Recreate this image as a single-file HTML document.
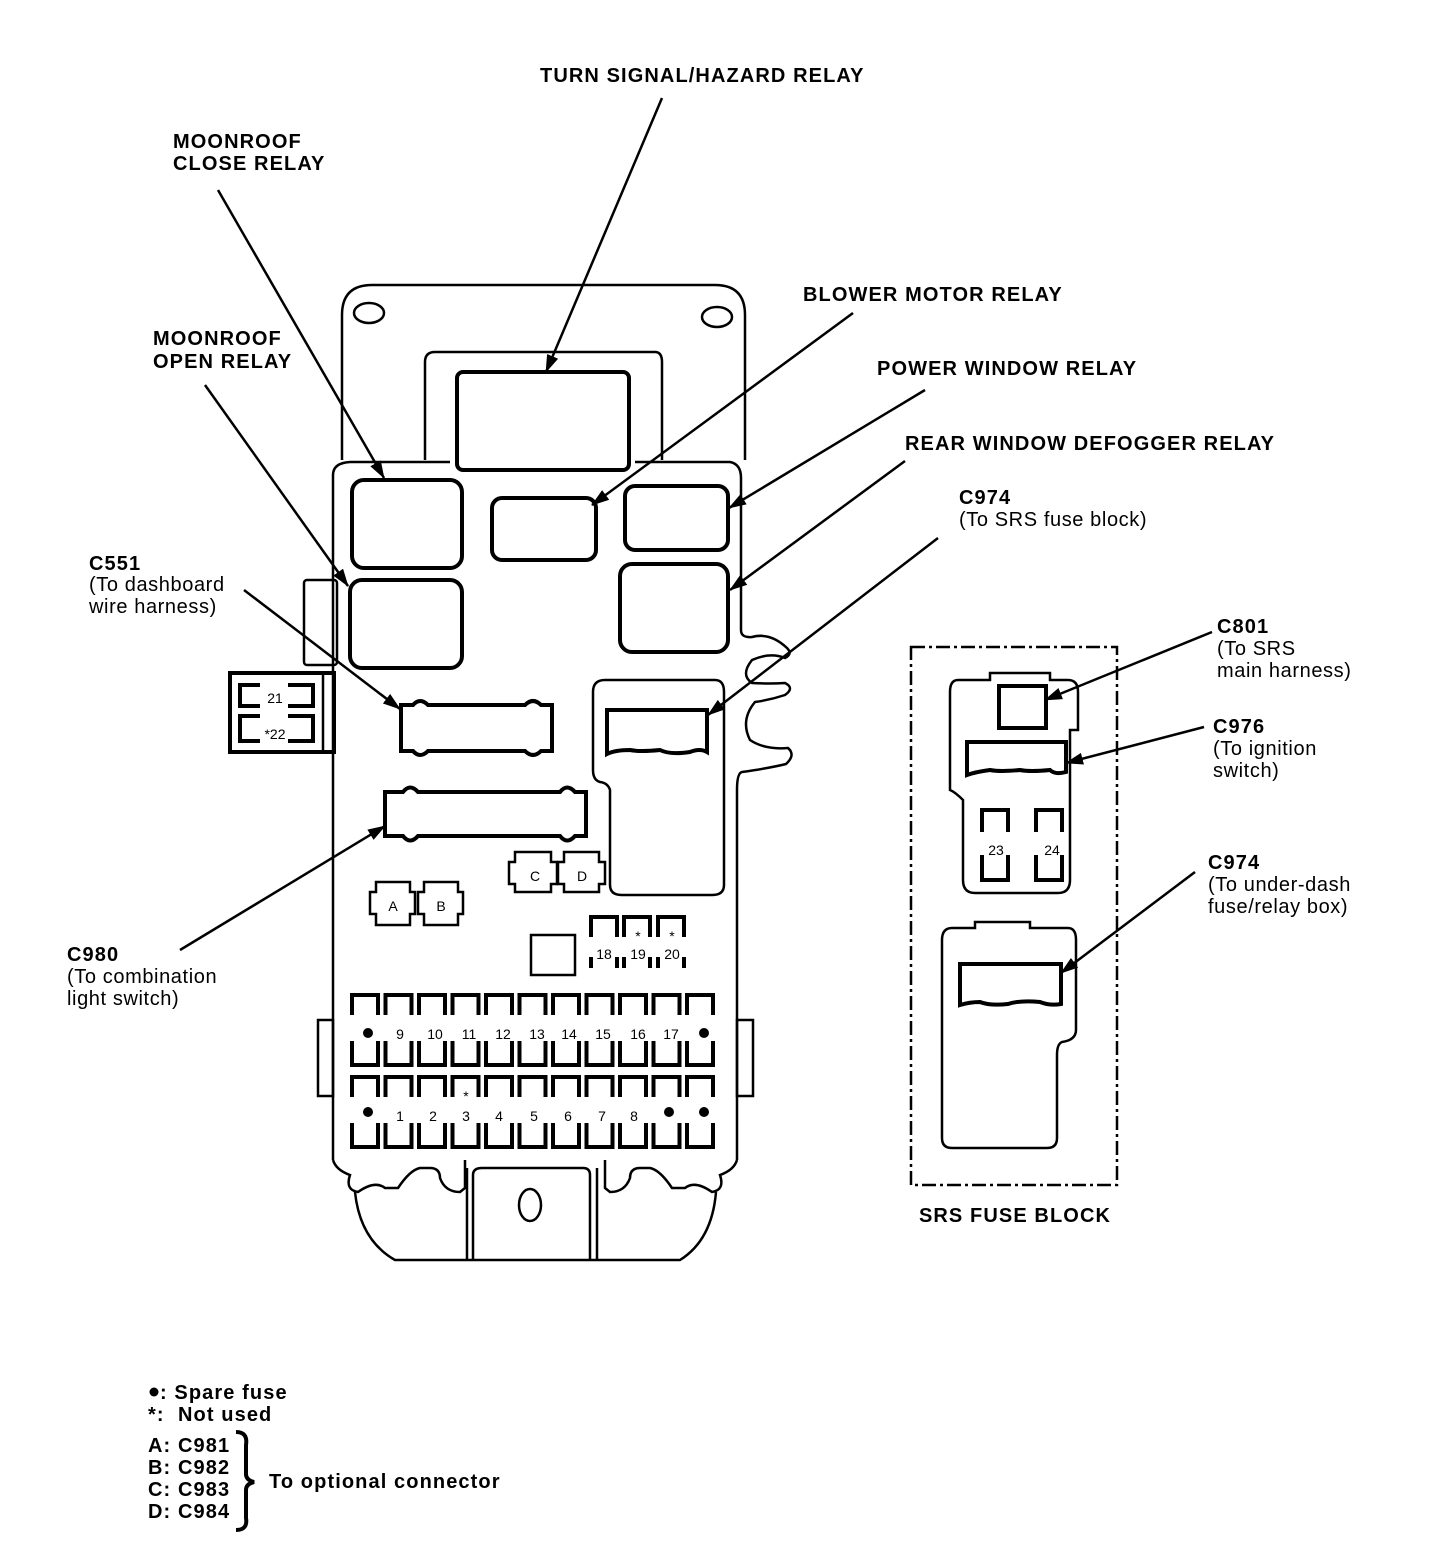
<!DOCTYPE html>
<html><head><meta charset="utf-8"><style>
html,body{margin:0;padding:0;background:#fff;}
svg{display:block;}
.b{font-family:"Liberation Sans",sans-serif;font-weight:bold;font-size:20px;letter-spacing:1.1px;fill:#000;}
.r{font-family:"Liberation Sans",sans-serif;font-size:20px;letter-spacing:0.6px;fill:#000;}
.s{font-family:"Liberation Sans",sans-serif;font-size:14px;fill:#000;}
.t{fill:none;stroke:#000;stroke-width:4;}
.m{fill:none;stroke:#000;stroke-width:2.5;}
.l{fill:none;stroke:#000;stroke-width:2.5;marker-end:url(#ah2);}
</style></head><body>
<svg width="1440" height="1554" viewBox="0 0 1440 1554" xmlns="http://www.w3.org/2000/svg">
<defs>
<marker id="ah2" markerWidth="18" markerHeight="12" refX="17" refY="6" orient="auto" markerUnits="userSpaceOnUse" viewBox="0 0 18 12">
<path d="M0,0 L18,6 L0,12 Z" fill="#000"/></marker>
<g id="fb"><path d="M2,22 V2 H28 V22" class="t"/><path d="M2,48 V72 H28 V48" class="t"/></g>
</defs>

<!-- main housing -->
<path class="m" d="M342,460 V315 Q342,285 372,285 H715 Q745,285 745,315 V460"/>
<ellipse cx="369" cy="313" rx="15" ry="10" class="m"/>
<ellipse cx="717" cy="317" rx="15" ry="10" class="m"/>
<path class="m" d="M425,460 V362 Q425,352 435,352 H655 Q662,352 662,362 V460"/>
<path class="m" d="M333,1160 V475 Q333,463 350,462 H450"/>
<path class="m" d="M635,462 H730 Q741,464 741,478 V630 Q741,638 752,637 Q770,632 787,648 Q793,654 785,658 Q770,652 752,660 Q740,675 752,683 Q770,684 785,683 Q795,688 785,695 Q770,700 755,702 Q740,720 750,740 Q765,750 788,748 Q796,755 786,764 Q770,768 742,772 Q737,773 737,790 V1160"/>
<rect x="457" y="372" width="172" height="98" rx="6" class="t"/>
<rect x="352" y="480" width="110" height="88" rx="12" class="t"/>
<rect x="350" y="580" width="112" height="88" rx="12" class="t"/>
<rect x="492" y="498" width="104" height="62" rx="10" class="t"/>
<rect x="625" y="486" width="103" height="64" rx="10" class="t"/>
<rect x="620" y="564" width="108" height="88" rx="12" class="t"/>
<rect x="304" y="580" width="33" height="85" rx="3" class="m"/>
<rect x="230" y="673" width="104" height="79" class="t"/>
<line x1="323" y1="675" x2="323" y2="752" class="m"/>
<path class="t" d="M260,685 H240 V706 H260 M288,685 H313 V706 H288"/>
<path class="t" d="M260,716 H240 V741 H260 M288,716 H313 V741 H288"/>
<text x="275" y="703" class="s" text-anchor="middle">21</text>
<text x="275" y="739" class="s" text-anchor="middle">*22</text>
<path class="t" d="M401,705 H413 Q420,697 428,705 H525 Q533,697 541,705 H552 V751 H541 Q533,759 525,751 H428 Q420,759 413,751 H401 Z"/>
<path class="t" d="M385,792 H403 Q410,783 418,792 H560 Q567,783 575,792 H586 V836 H575 Q567,845 560,836 H418 Q410,845 403,836 H385 Z"/>
<path class="m" d="M605,680 H715 Q724,680 724,692 V885 Q724,895 712,895 H622 Q610,895 610,885 V790 Q608,783 600,782 Q593,780 593,770 V692 Q593,680 605,680 Z"/>
<path class="t" d="M607,710 H707 V752 Q700,748 690,752 Q670,755 660,750 Q640,752 630,750 Q615,750 607,754 Z"/>
<path class="m" d="M376,882 H410 V892 H415 V914 H410 V925 H376 V914 H370 V892 H376 Z"/>
<path class="m" d="M424,882 H458 V892 H463 V914 H458 V925 H424 V914 H418 V892 H424 Z"/>
<path class="m" d="M515,852 H551 V862 H557 V884 H551 V892 H515 V884 H509 V862 H515 Z"/>
<path class="m" d="M564,852 H599 V862 H605 V884 H599 V892 H564 V884 H558 V862 H564 Z"/>
<text x="393" y="911" class="s" text-anchor="middle">A</text>
<text x="441" y="911" class="s" text-anchor="middle">B</text>
<text x="535" y="881" class="s" text-anchor="middle">C</text>
<text x="582" y="881" class="s" text-anchor="middle">D</text>
<rect x="531" y="935" width="44" height="40" class="m"/>
<path class="t" d="M591,937 V917 H617 V937 M591,957 V968 M617,957 V968"/>
<path class="t" d="M624,937 V917 H650 V937 M624,957 V968 M650,957 V968"/>
<path class="t" d="M658,937 V917 H684 V937 M658,957 V968 M684,957 V968"/>
<text x="604" y="959" class="s" text-anchor="middle">18</text>
<text x="638" y="959" class="s" text-anchor="middle">19</text>
<text x="672" y="959" class="s" text-anchor="middle">20</text>
<text x="638" y="941" class="s" text-anchor="middle">*</text>
<text x="672" y="941" class="s" text-anchor="middle">*</text>
<use href="#fb" x="350" y="993"/><use href="#fb" x="383.5" y="993"/><use href="#fb" x="417" y="993"/><use href="#fb" x="450.5" y="993"/><use href="#fb" x="484" y="993"/><use href="#fb" x="517.5" y="993"/><use href="#fb" x="551" y="993"/><use href="#fb" x="584.5" y="993"/><use href="#fb" x="618" y="993"/><use href="#fb" x="651.5" y="993"/><use href="#fb" x="685" y="993"/>
<use href="#fb" x="350" y="1075"/><use href="#fb" x="383.5" y="1075"/><use href="#fb" x="417" y="1075"/><use href="#fb" x="450.5" y="1075"/><use href="#fb" x="484" y="1075"/><use href="#fb" x="517.5" y="1075"/><use href="#fb" x="551" y="1075"/><use href="#fb" x="584.5" y="1075"/><use href="#fb" x="618" y="1075"/><use href="#fb" x="651.5" y="1075"/><use href="#fb" x="685" y="1075"/>
<circle cx="368" cy="1033" r="5"/><circle cx="704" cy="1033" r="5"/>
<circle cx="368" cy="1112" r="5"/><circle cx="669" cy="1112" r="5"/><circle cx="704" cy="1112" r="5"/>
<g class="s" text-anchor="middle">
<text x="400" y="1039">9</text><text x="435" y="1039">10</text><text x="469" y="1039">11</text><text x="503" y="1039">12</text><text x="537" y="1039">13</text><text x="569" y="1039">14</text><text x="603" y="1039">15</text><text x="638" y="1039">16</text><text x="671" y="1039">17</text>
<text x="400" y="1121">1</text><text x="433" y="1121">2</text><text x="466" y="1121">3</text><text x="499" y="1121">4</text><text x="534" y="1121">5</text><text x="568" y="1121">6</text><text x="602" y="1121">7</text><text x="634" y="1121">8</text>
<text x="466" y="1101">*</text>
</g>
<rect x="318" y="1020" width="15" height="76" class="m"/>
<rect x="737" y="1020" width="16" height="76" class="m"/>
<path class="m" d="M333,1160 Q336,1170 350,1175 Q345,1190 358,1192 Q375,1180 385,1188 H398 Q410,1170 420,1168 H430 Q440,1168 440,1178 Q445,1192 460,1192 L465,1188 V1160"/>
<path class="m" d="M737,1160 Q734,1170 720,1175 Q725,1190 712,1192 Q695,1180 685,1188 H672 Q660,1170 650,1168 H640 Q630,1168 630,1178 Q625,1192 610,1192 L605,1188 V1160"/>
<path class="m" d="M355,1192 Q360,1240 395,1260 H680 Q712,1240 716,1192"/>
<path class="m" d="M473,1260 V1175 Q473,1168 482,1168 H583 Q590,1168 590,1175 V1260"/>
<line x1="467" y1="1168" x2="467" y2="1260" class="m"/><line x1="597" y1="1168" x2="597" y2="1260" class="m"/>
<ellipse cx="530" cy="1205" rx="11" ry="16" class="m"/>

<!-- SRS fuse block -->
<rect x="911" y="647" width="206" height="538" class="m" stroke-dasharray="14,4,3,4"/>
<path class="m" d="M958,680 H990 V673 H1050 V680 H1068 Q1078,680 1078,692 V730 H1070 V880 Q1070,893 1058,893 H975 Q963,893 963,880 V800 Q955,792 950,790 V692 Q950,680 958,680 Z"/>
<rect x="999" y="686" width="47" height="42" class="t"/>
<path class="t" d="M967,742 H1066 V772 Q1055,775 1050,770 Q1030,772 1020,770 Q1000,772 990,770 Q975,772 967,775 Z"/>
<path class="t" d="M982,832 V810 H1008 V832 M982,855 V880 H1008 V855"/>
<path class="t" d="M1036,832 V810 H1062 V832 M1036,855 V880 H1062 V855"/>
<text x="996" y="855" class="s" text-anchor="middle">23</text>
<text x="1052" y="855" class="s" text-anchor="middle">24</text>
<path class="m" d="M952,928 H975 V922 H1030 V928 H1068 Q1076,928 1076,940 V1030 Q1076,1040 1062,1042 Q1057,1044 1057,1055 V1138 Q1057,1148 1047,1148 H952 Q942,1148 942,1138 V940 Q942,928 952,928 Z"/>
<path class="t" d="M960,964 H1061 V1004 Q1050,1006 1040,1002 Q1020,1000 1008,1004 Q990,1006 980,1002 Q970,1002 960,1005 Z"/>
<text x="1015" y="1222" class="b" text-anchor="middle">SRS FUSE BLOCK</text>

<!-- leaders -->
<line x1="662" y1="98" x2="546" y2="372" class="l"/>
<line x1="218" y1="190" x2="384" y2="478" class="l"/>
<line x1="205" y1="385" x2="348" y2="586" class="l"/>
<line x1="853" y1="313" x2="592" y2="505" class="l"/>
<line x1="925" y1="390" x2="729" y2="508" class="l"/>
<line x1="905" y1="461" x2="730" y2="590" class="l"/>
<line x1="938" y1="538" x2="708" y2="715" class="l"/>
<line x1="244" y1="590" x2="400" y2="709" class="l"/>
<line x1="180" y1="950" x2="385" y2="826" class="l"/>
<line x1="1212" y1="632" x2="1045" y2="700" class="l"/>
<line x1="1204" y1="727" x2="1066" y2="763" class="l"/>
<line x1="1195" y1="872" x2="1061" y2="973" class="l"/>

<!-- labels -->
<text x="540" y="82" class="b">TURN SIGNAL/HAZARD RELAY</text>
<text x="173" y="148" class="b">MOONROOF</text>
<text x="173" y="170" class="b">CLOSE RELAY</text>
<text x="153" y="345" class="b">MOONROOF</text>
<text x="153" y="368" class="b">OPEN RELAY</text>
<text x="803" y="301" class="b">BLOWER MOTOR RELAY</text>
<text x="877" y="375" class="b">POWER WINDOW RELAY</text>
<text x="905" y="450" class="b">REAR WINDOW DEFOGGER RELAY</text>
<text x="959" y="504" class="b">C974</text>
<text x="959" y="526" class="r">(To SRS fuse block)</text>
<text x="89" y="570" class="b">C551</text>
<text x="89" y="591" class="r">(To dashboard</text>
<text x="89" y="613" class="r">wire harness)</text>
<text x="67" y="961" class="b">C980</text>
<text x="67" y="983" class="r">(To combination</text>
<text x="67" y="1005" class="r">light switch)</text>
<text x="1217" y="633" class="b">C801</text>
<text x="1217" y="655" class="r">(To SRS</text>
<text x="1217" y="677" class="r">main harness)</text>
<text x="1213" y="733" class="b">C976</text>
<text x="1213" y="755" class="r">(To ignition</text>
<text x="1213" y="777" class="r">switch)</text>
<text x="1208" y="869" class="b">C974</text>
<text x="1208" y="891" class="r">(To under-dash</text>
<text x="1208" y="913" class="r">fuse/relay box)</text>

<!-- legend -->
<circle cx="154" cy="1392" r="4.5"/>
<text x="160" y="1399" class="b">: Spare fuse</text>
<text x="148" y="1421" class="b">*:</text>
<text x="178" y="1421" class="b">Not used</text>
<text x="148" y="1452" class="b">A: C981</text>
<text x="148" y="1474" class="b">B: C982</text>
<text x="148" y="1496" class="b">C: C983</text>
<text x="148" y="1518" class="b">D: C984</text>
<path d="M236,1432 Q248,1432 246,1445 V1474 Q246,1480 254,1482 Q246,1484 246,1490 V1518 Q248,1530 236,1530" fill="none" stroke="#000" stroke-width="4"/>
<text x="269" y="1488" class="b">To optional connector</text>
</svg>
</body></html>
